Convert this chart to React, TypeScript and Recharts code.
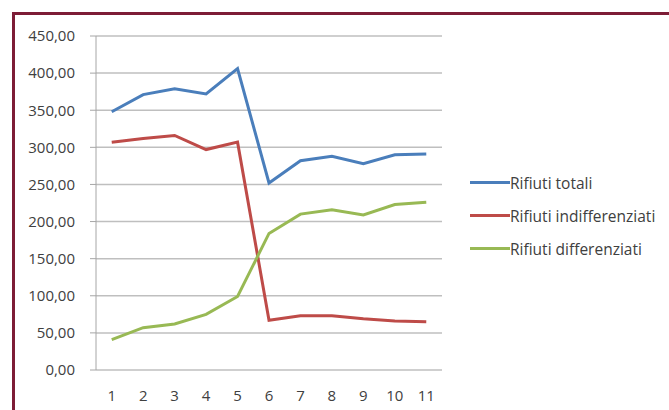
import React from 'react';
import { LineChart, Line, XAxis, YAxis, CartesianGrid } from 'recharts';

const categories = [1, 2, 3, 4, 5, 6, 7, 8, 9, 10, 11];
const rifiutiTotali = [348, 371, 379, 372, 406, 252, 282, 288, 278, 290, 291];
const rifiutiIndifferenziati = [307, 312, 316, 297, 307, 67, 73, 73, 69, 66, 65];
const rifiutiDifferenziati = [41, 57, 62, 75, 99, 184, 210, 216, 209, 223, 226];
const yTicks = [0, 50, 100, 150, 200, 250, 300, 350, 400, 450];

const seriesNames = ['Rifiuti totali', 'Rifiuti indifferenziati', 'Rifiuti differenziati'];
const seriesColors = ['#4a7ebb', '#be4b48', '#98b954'];

const data = categories.map((c, i) => ({
  x: c,
  tot: rifiutiTotali[i],
  ind: rifiutiIndifferenziati[i],
  diff: rifiutiDifferenziati[i],
}));

const boundaryTicks = [...categories.map((c) => c - 0.5), categories[categories.length - 1] + 0.5];

const fmt = (v: number) => v.toFixed(2).replace('.', ',');

export default function App() {
  return (
    <div style={{ position: 'absolute', left: 0, top: 0, width: 669, height: 410, background: '#fff', overflow: 'hidden' }}>
      <div
        style={{
          position: 'absolute',
          left: 12,
          top: 12,
          right: 0,
          bottom: 0,
          borderTop: '3px solid #7d1d36',
          borderLeft: '3px solid #7d1d36',
        }}
      />
      <div style={{ position: 'absolute', left: 0, top: 0 }}>
        <LineChart width={669} height={410} data={data} margin={{ top: 36, right: 227, left: 0, bottom: 0 }}>
          <CartesianGrid vertical={false} stroke="#bfbfbf" strokeWidth={1.5} />
          <XAxis
            xAxisId="b"
            dataKey="x"
            type="number"
            domain={[0.5, 11.5]}
            ticks={boundaryTicks}
            tick={false}
            tickSize={5}
            interval={0}
            height={0}
            axisLine={{ stroke: '#a6a6a6' }}
            tickLine={{ stroke: '#a6a6a6' }}
          />
          <XAxis
            dataKey="x"
            type="number"
            domain={[0.5, 11.5]}
            ticks={categories}
            axisLine={false}
            tickLine={false}
            tickSize={0}
            tickMargin={20}
            height={40}
            interval={0}
            tick={{ fill: '#404040', fontSize: 15, fontFamily: 'Open Sans' }}
          />
          <YAxis
            type="number"
            domain={[0, 450]}
            ticks={yTicks}
            interval={0}
            width={96}
            tickFormatter={fmt}
            axisLine={{ stroke: '#a6a6a6' }}
            tickLine={{ stroke: '#a6a6a6' }}
            tickSize={6}
            tickMargin={15}
            tick={{ fill: '#404040', fontSize: 15, fontFamily: 'Open Sans' }}
          />
          <Line dataKey="tot" name={seriesNames[0]} stroke={seriesColors[0]} strokeWidth={3} dot={false} isAnimationActive={false} />
          <Line dataKey="ind" name={seriesNames[1]} stroke={seriesColors[1]} strokeWidth={3} dot={false} isAnimationActive={false} />
          <Line dataKey="diff" name={seriesNames[2]} stroke={seriesColors[2]} strokeWidth={3} dot={false} isAnimationActive={false} />
        </LineChart>
      </div>
      <div style={{ position: 'absolute', left: 470, top: 166, fontFamily: 'Open Sans', fontSize: 15.5, color: '#404040' }}>
        {seriesNames.map((n, i) => (
          <div key={n} style={{ display: 'flex', alignItems: 'center', height: 33 }}>
            <div style={{ width: 40, height: 3, background: seriesColors[i] }} />
            <span style={{ whiteSpace: 'nowrap' }}>{n}</span>
          </div>
        ))}
      </div>
    </div>
  );
}
